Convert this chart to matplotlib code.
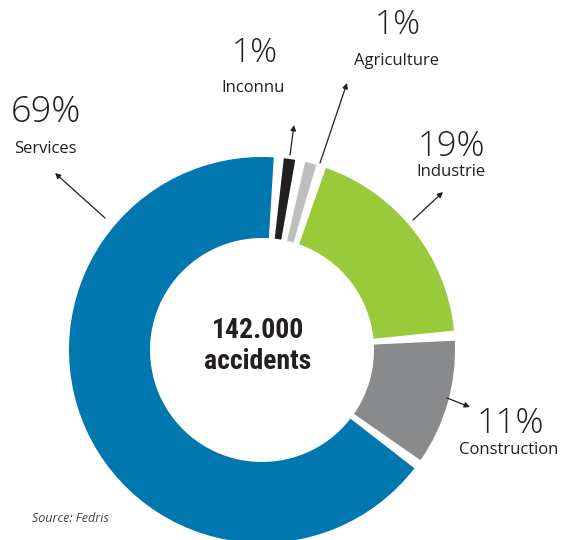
import matplotlib.pyplot as plt
from matplotlib.patches import Wedge

W, H = 563, 540

# accidents by sector, clockwise from the top
sectors = ["Inconnu", "Agriculture", "Industrie", "Construction", "Services"]
shares = [1, 1, 19, 11, 69]
pct_labels = ["1%", "1%", "19%", "11%", "69%"]
colors = ["#231F20", "#BCBEC0", "#9ACA3C", "#898A8C", "#0077AE"]
total_label = "142.000\naccidents"
source = "Source: Fedris"

# layout (pixels, origin top-left)
CENTER = (262, 350)
R_OUT, R_IN = 193, 112
START = 83.5      # degrees, first wedge starts here and runs clockwise
PAD = 3.0         # angular gap between wedges

# label text positions and arrow (tail, head) per sector
pct_pos = [(255, 53), (398, 25), (451, 147), (510, 424), (46, 112)]
name_pos = [(253, 88), (397, 61), (451, 172), (509, 450), (45, 149)]
arrows = [((290, 155), (294, 125)),
          ((320, 163), (347, 83)),
          ((413, 220), (443, 192)),
          ((447, 398), (470, 407)),
          ((105, 218), (55, 173))]
pct_size = [24, 24, 25, 25, 26]

TEXT = "#231F20"
plt.rcParams["font.family"] = ["Open Sans", "DejaVu Sans"]


def px(p):
    return p[0], H - p[1]


fig = plt.figure(figsize=(W / 100, H / 100), dpi=100)
ax = fig.add_axes([0, 0, 1, 1])
ax.set_xlim(0, W)
ax.set_ylim(0, H)
ax.set_aspect("equal")
ax.axis("off")

# donut with padded wedges: spans stay proportional to the shares
scale = (360 - PAD * len(shares)) / sum(shares)
cx, cy = px(CENTER)
theta = START
for val, col in zip(shares, colors):
    span = val * scale
    ax.add_patch(Wedge((cx, cy), R_OUT, theta - span, theta,
                       width=R_OUT - R_IN, facecolor=col, edgecolor="none"))
    theta -= span + PAD

for i in range(len(sectors)):
    ax.text(*px(pct_pos[i]), pct_labels[i], fontsize=pct_size[i],
            fontweight="light", color=TEXT, ha="center", va="center")
    ax.text(*px(name_pos[i]), sectors[i], fontsize=12,
            color=TEXT, ha="center", va="center")
    tail, head = arrows[i]
    ax.annotate("", xy=px(head), xytext=px(tail),
                arrowprops=dict(arrowstyle="-|>", lw=0.9, color=TEXT,
                                mutation_scale=8, shrinkA=0, shrinkB=0))

ax.text(cx - 4, cy + 4, total_label, fontsize=20, fontweight="bold",
        family=["Roboto Condensed", "Roboto", "DejaVu Sans"],
        fontstretch="condensed", color=TEXT,
        ha="center", va="center", linespacing=1.2)

ax.text(32, H - 518, source, fontsize=9, style="italic", color="#444444",
        ha="left", va="center")

fig.savefig("out.png", dpi=100)
plt.close(fig)
